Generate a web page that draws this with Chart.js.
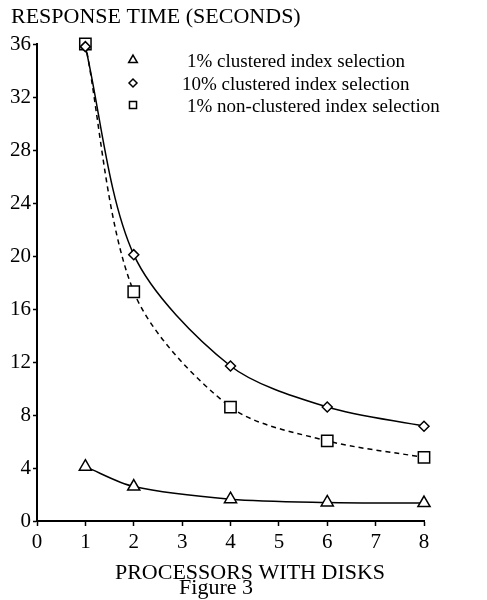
<!DOCTYPE html>
<html>
<head>
<meta charset="utf-8">
<script src="https://cdn.jsdelivr.net/npm/chart.js@4/dist/chart.umd.min.js"></script>
<style>
html,body{margin:0;padding:0;background:#fff;}
#wrap{width:487px;height:600px;}
</style>
</head>
<body>
<div id="wrap"><canvas id="fig3" width="487" height="600"></canvas></div>
<script>
// processors with disks
const processors = [1, 2, 4, 6, 8];

// response time, seconds
const clustered1 = [4.1, 2.6, 1.65, 1.4, 1.35];
const clustered10 = [35.8, 20.1, 11.7, 8.6, 7.15];
const nonClustered1 = [36.0, 17.3, 8.6, 6.05, 4.8];

const seriesLabels = [
  "1% clustered index selection",
  "10% clustered index selection",
  "1% non-clustered index selection"
];

const serif = "'Liberation Serif', 'Times New Roman', serif";

function pts(ys){
  return processors.map((p, i) => ({x: p, y: ys[i]}));
}

function series(label, ys, style, radius, dash){
  return {
    label: label,
    data: pts(ys),
    borderColor: "#000",
    borderWidth: 1.5,
    borderDash: dash,
    tension: 0.3,
    pointStyle: style,
    pointRadius: radius,
    pointBorderWidth: 1.5,
    pointBorderColor: "#000",
    pointBackgroundColor: "#fff",
    clip: false
  };
}

// legend + titles drawn by hand, old typewriter layout
const figText = {
  id: "figText",
  afterDraw(chart){
    const ctx = chart.ctx;
    ctx.save();
    ctx.fillStyle = "#000";
    ctx.textBaseline = "middle";
    ctx.font = "22px " + serif;
    ctx.textAlign = "left";
    ctx.fillText("RESPONSE TIME (SECONDS)", 11, 17);
    ctx.textAlign = "center";
    ctx.fillText("PROCESSORS WITH DISKS", 250, 573);
    ctx.fillText("Figure 3", 216, 588);

    const rowY = [60, 83, 105];
    const textX = [187, 182, 187];
    ctx.font = "19px " + serif;
    ctx.textAlign = "left";
    ctx.strokeStyle = "#000";
    chart.data.datasets.forEach((ds, i) => {
      ctx.fillStyle = "#fff";
      ctx.lineWidth = 1.5;
      Chart.helpers.drawPoint(ctx, {
        pointStyle: ds.pointStyle,
        radius: ds.pointStyle === "rectRot" ? 4 : 5,
        borderWidth: 1.5
      }, 133, rowY[i]);
      ctx.fillStyle = "#000";
      ctx.fillText(ds.label, textX[i], rowY[i] + 2);
    });
    ctx.restore();
  }
};

new Chart(document.getElementById("fig3"), {
  type: "line",
  data: {
    datasets: [
      series(seriesLabels[0], clustered1, "triangle", 7, []),
      series(seriesLabels[1], clustered10, "rectRot", 5, []),
      series(seriesLabels[2], nonClustered1, "rect", 8, [5, 4])
    ]
  },
  options: {
    responsive: false,
    animation: false,
    layout: {padding: {top: 44, right: 63, left: 0, bottom: 0}},
    plugins: {
      legend: {display: false},
      tooltip: {enabled: false}
    },
    scales: {
      x: {
        type: "linear",
        min: 0,
        max: 8,
        afterFit(s){ s.height = 79; },
        border: {color: "#000", width: 2},
        grid: {drawOnChartArea: false, color: "#000", tickLength: 5, tickWidth: 1.5},
        ticks: {stepSize: 1, color: "#000", padding: 4, maxRotation: 0,
          font: {family: serif, size: 21}}
      },
      y: {
        min: 0,
        max: 36,
        afterFit(s){ s.width = 37; },
        border: {color: "#000", width: 2},
        grid: {drawOnChartArea: false, color: "#000", tickLength: 4, tickWidth: 1.5},
        ticks: {stepSize: 4, color: "#000", padding: 2,
          font: {family: serif, size: 21}}
      }
    }
  },
  plugins: [figText]
});
</script>
</body>
</html>
